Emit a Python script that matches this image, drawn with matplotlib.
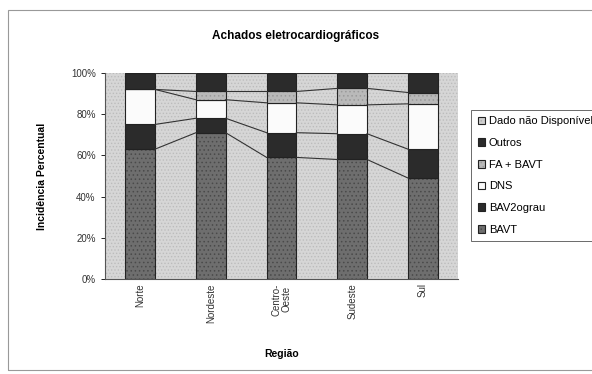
import numpy as np
import matplotlib
matplotlib.use("Agg")
import matplotlib.pyplot as plt
from matplotlib.patches import Rectangle

plt.rcParams['font.family'] = ['Liberation Sans', 'DejaVu Sans']
plt.rcParams['hatch.linewidth'] = 0.6

regioes = ["Norte", "Nordeste", "Centro-\nOeste", "Sudeste", "Sul"]

# percentuais por regiao (base -> topo da pilha)
bavt = [63, 71, 59, 58, 49]
bav2grau = [12, 7, 12, 12.5, 14]
dns = [17, 9, 14.5, 14, 22]
fa_bavt = [0, 4, 5.5, 8, 5.5]
outros = [8, 9, 9, 7.5, 9.5]
dado_nd = [0, 0, 0, 0, 0]

series = [
    ("BAVT", bavt, '#6e6e6e', '#4a4a4a', '....'),
    ("BAV2ograu", bav2grau, '#2b2b2b', '#2b2b2b', None),
    ("DNS", dns, '#fbfbfb', '#fbfbfb', None),
    ("FA + BAVT", fa_bavt, '#b9b9b9', '#9a9a9a', '....'),
    ("Outros", outros, '#2b2b2b', '#2b2b2b', None),
    ("Dado não Disponível", dado_nd, '#cfcfcf', '#b0b0b0', '....'),
]

fig = plt.figure(figsize=(5.92, 3.74), dpi=100)
ax = fig.add_axes([0.177, 0.254, 0.597, 0.551])

# fundo pontilhado da area de plotagem
ax.set_facecolor('#d6d6d6')
ax.add_patch(Rectangle((0, 0), 1, 1, transform=ax.transAxes, facecolor='#d6d6d6',
                       edgecolor='#bcbcbc', hatch='.....', lw=0, zorder=0))

x = np.arange(len(regioes))
w = 0.42
bottom = np.zeros(len(regioes))
handles = []
tops = []
for nome, vals, fc, hc, hatch in series:
    vals = np.array(vals, dtype=float)
    b = ax.bar(x, vals, w, bottom=bottom, facecolor=fc, edgecolor='#222222',
               linewidth=0.8, hatch=hatch, label=nome, zorder=2)
    for p in b:
        p._hatch_color = matplotlib.colors.to_rgba(hc)
    handles.append(b)
    bottom = bottom + vals
    tops.append(bottom.copy())

# linhas de serie entre as colunas
for t in tops[:-1]:
    for i in range(len(regioes) - 1):
        ax.plot([x[i] + w / 2, x[i + 1] - w / 2], [t[i], t[i + 1]],
                color='#333333', lw=0.8, zorder=3)

ax.set_xlim(-0.5, len(regioes) - 0.5)
ax.set_ylim(0, 100)
ax.set_yticks(range(0, 101, 20))
ax.set_yticklabels([f"{v}%" for v in range(0, 101, 20)], fontsize=7, color='#333333')
ax.set_xticks(x)
ax.set_xticklabels(regioes, rotation=90, fontsize=7, color='#333333', linespacing=1.0)
ax.tick_params(axis='x', length=0, pad=3)
ax.tick_params(axis='y', length=3, width=0.6, direction='out')
for s in ax.spines.values():
    s.set_color('#555555')
    s.set_linewidth(0.8)
ax.spines['top'].set_visible(False)
ax.spines['right'].set_visible(False)

ax.set_ylabel("Incidência Percentual", fontsize=7.5, fontweight='bold', labelpad=17)
ax.set_xlabel("Região", fontsize=7.5, fontweight='bold', labelpad=19)
fig.text(0.5, 0.905, "Achados eletrocardiográficos", ha='center', va='center',
         fontsize=8.5, fontweight='bold')

leg = fig.legend(handles=handles[::-1], loc='upper left', bbox_to_anchor=(0.787, 0.72),
                 fontsize=8, frameon=True, fancybox=False, edgecolor='#444444',
                 handlelength=0.7, handleheight=0.7, handletextpad=0.3,
                 labelspacing=1.05, borderpad=0.55)
leg.get_frame().set_linewidth(0.7)

# moldura do grafico
fig.add_artist(Rectangle((8 / 592, 4 / 374), 1.0, 1 - 14 / 374, transform=fig.transFigure,
                         fill=False, edgecolor='#999999', lw=0.8))

fig.savefig("out.png", dpi=100)
